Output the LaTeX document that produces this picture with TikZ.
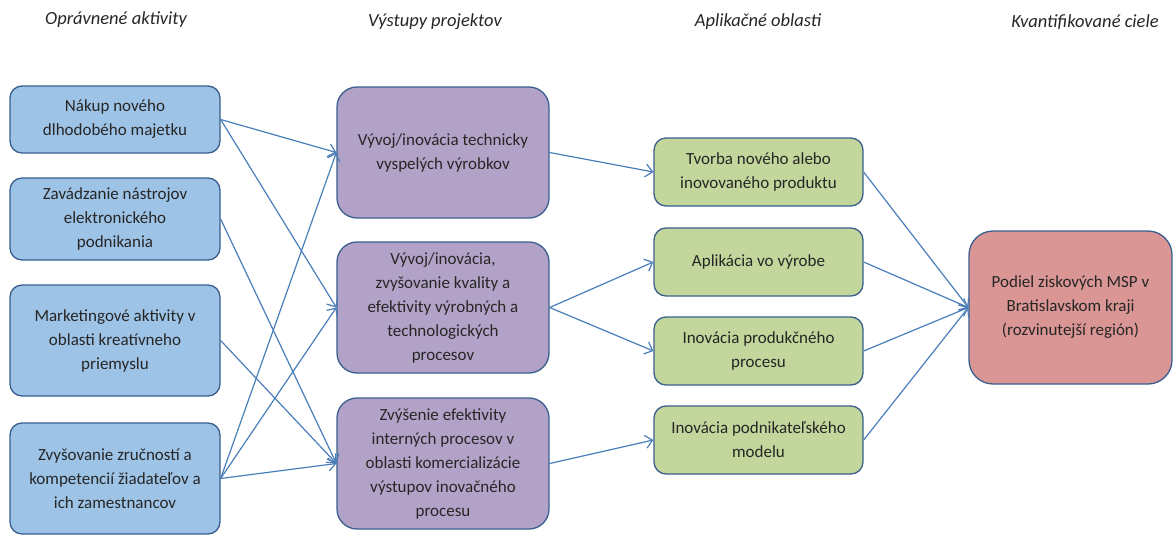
\documentclass[tikz,border=0pt]{standalone}
\usepackage{fontspec}
\setmainfont{Carlito}
\usetikzlibrary{arrows.meta}
\definecolor{bluef}{HTML}{9DC3E6}
\definecolor{purplef}{HTML}{B3A2C7}
\definecolor{greenf}{HTML}{C3D69B}
\definecolor{redf}{HTML}{D99694}
\definecolor{edge}{HTML}{3A5F8E}
\definecolor{arrowc}{HTML}{4A7EBB}
\tikzset{
  box/.style={draw=edge, line width=1.3pt, align=center, inner sep=0pt,
    font=\fontsize{17pt}{24pt}\selectfont, text=black!85},
  bluebox/.style={box, fill=bluef, rounded corners=12pt, minimum width=210pt},
  purplebox/.style={box, fill=purplef, rounded corners=20pt, minimum width=212pt, minimum height=131pt},
  greenbox/.style={box, fill=greenf, rounded corners=12pt, minimum width=209pt, minimum height=68pt},
  redbox/.style={box, fill=redf, rounded corners=24pt, minimum width=203pt, minimum height=153pt},
  header/.style={font=\fontsize{18.5pt}{22pt}\selectfont\itshape, text=black!85, inner sep=0pt},
  arr/.style={draw=arrowc, line width=1.2pt, -{Straight Barb[length=7pt,width=13pt,line width=1.2pt]}}
}
\begin{document}
\begin{tikzpicture}[x=1pt,y=-1pt]
\useasboundingbox (0,0) rectangle (1173,536);
% headers
\node[header] (h1) at (116,20) {Oprávnené aktivity};
\node[header] (h2) at (435,22) {Výstupy projektov};
\node[header] (h3) at (758,22) {Aplikačné oblasti};
\node[header] (h4) at (1085,22) {Kvantifikované ciele};
% left column
\node[bluebox, minimum height=67pt] (b1) at (115,119.5) {Nákup nového\\dlhodobého majetku};
\node[bluebox, minimum height=82pt] (b2) at (115,219) {Zavádzanie nástrojov\\elektronického\\podnikania};
\node[bluebox, minimum height=111pt] (b3) at (115,340.5) {Marketingové aktivity v\\oblasti kreatívneho\\priemyslu};
\node[bluebox, minimum height=111pt] (b4) at (115,478.5) {Zvyšovanie zručností a\\kompetencií žiadateľov a\\ich zamestnancov};
% outputs
\node[purplebox] (p1) at (443,152.5) {Vývoj/inovácia technicky\\vyspelých výrobkov};
\node[purplebox] (p2) at (443,307.5) {Vývoj/inovácia,\\zvyšovanie kvality a\\efektivity výrobných a\\technologických\\procesov};
\node[purplebox] (p3) at (443,463.5) {Zvýšenie efektivity\\interných procesov v\\oblasti komercializácie\\výstupov inovačného\\procesu};
% application areas
\node[greenbox] (g1) at (758.5,172) {Tvorba nového alebo\\inovovaného produktu};
\node[greenbox] (g2) at (758.5,262) {Aplikácia vo výrobe};
\node[greenbox] (g3) at (758.5,351) {Inovácia produkčného\\procesu};
\node[greenbox] (g4) at (758.5,440) {Inovácia podnikateľského\\modelu};
% target
\node[redbox] (r) at (1070.5,307.5) {Podiel ziskových MSP v\\Bratislavskom kraji\\(rozvinutejší región)};
% connectors
\draw[arr] (b1.east) -- (p1.west);
\draw[arr] (b1.east) -- (p2.west);
\draw[arr] (b2.east) -- (p3.west);
\draw[arr] (b3.east) -- (p3.west);
\draw[arr] (b4.east) -- (p1.west);
\draw[arr] (b4.east) -- (p2.west);
\draw[arr] (b4.east) -- (p3.west);
\draw[arr] (p1.east) -- (g1.west);
\draw[arr] (p2.east) -- (g2.west);
\draw[arr] (p2.east) -- (g3.west);
\draw[arr] (p3.east) -- (g4.west);
\draw[arr] (g1.east) -- (r.west);
\draw[arr] (g2.east) -- (r.west);
\draw[arr] (g3.east) -- (r.west);
\draw[arr] (g4.east) -- (r.west);
\end{tikzpicture}
\end{document}
